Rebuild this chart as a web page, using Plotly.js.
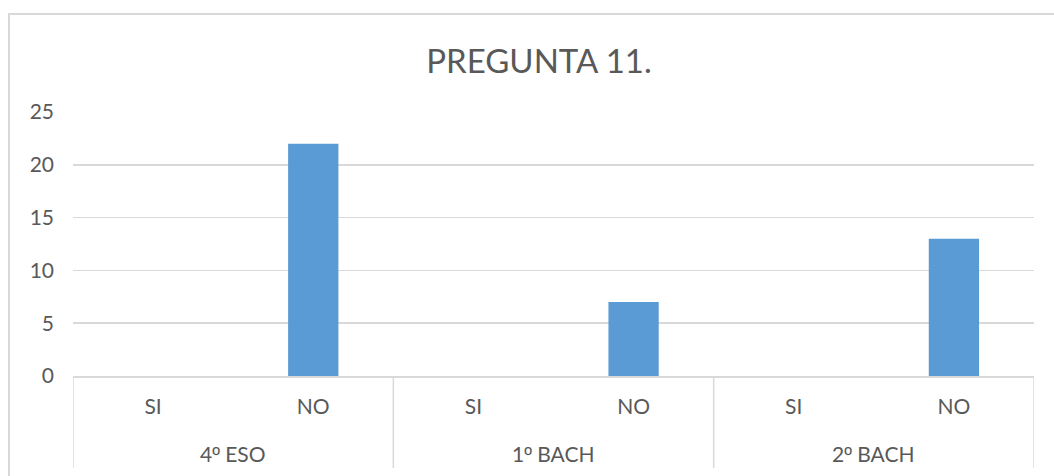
<!DOCTYPE html>
<html>
<head>
<meta charset="utf-8">
<script src="https://cdn.plot.ly/plotly-3.0.1.min.js"></script>
<style>
  html, body { margin: 0; padding: 0; background: #fff; overflow: hidden; }
  #frame { position: absolute; left: 8px; top: 13px; width: 1100px; height: 520px; border: 2px solid #d9d9d9; box-sizing: border-box; }
  #chart { position: absolute; left: 0; top: 0; width: 1054px; height: 476px; }
</style>
</head>
<body>
<div id="frame"></div>
<div id="chart"></div>
<script>
const groups = ['4º ESO', '1º BACH', '2º BACH'];
const subs = ['SI', 'NO'];
const valuesSI = [0, 0, 0];
const valuesNO = [22, 7, 13];
const yTicks = [0, 5, 10, 15, 20, 25];

const xs = [], ys = [], tickText = [];
groups.forEach((g, gi) => {
  [valuesSI[gi], valuesNO[gi]].forEach((v, si) => {
    xs.push(gi * subs.length + si);
    ys.push(v);
    tickText.push(subs[si]);
  });
});

const textColor = '#595959';
const gridColor = '#d9d9d9';
const fontFam = 'Lato, "Open Sans", sans-serif';

// render the ordinal indicator with a font that draws it underlined
const fmtGroup = g => g.replace('º', '<span style="font-family:\'Liberation Sans\'">º</span>');

const annotations = groups.map((g, gi) => ({
  x: gi * subs.length + (subs.length - 1) / 2,
  xref: 'x', y: 0, yref: 'paper', yshift: -77,
  text: fmtGroup(g), showarrow: false, yanchor: 'middle',
  font: { family: fontFam, size: 21, color: textColor }
}));

const plotH = 476 - 112 - 100;
const shapes = [];
for (let gi = 0; gi <= groups.length; gi++) {
  const xv = gi * subs.length - 0.5;
  shapes.push({ type: 'line', xref: 'x', yref: 'paper', x0: xv, x1: xv, y0: 0, y1: -92 / plotH,
    line: { color: gridColor, width: 1.5 } });
}

const trace = {
  type: 'bar', x: xs, y: ys, width: 0.314,
  marker: { color: '#5b9bd5' }, hoverinfo: 'y'
};

const layout = {
  width: 1054, height: 476,
  margin: { l: 73, r: 20, t: 112, b: 100 },
  paper_bgcolor: 'rgba(0,0,0,0)', plot_bgcolor: 'rgba(0,0,0,0)',
  showlegend: false,
  title: { text: 'PREGUNTA 11.', xref: 'container', yref: 'container', x: 539 / 1054, y: 1 - 61 / 476,
    xanchor: 'center', yanchor: 'middle', font: { family: fontFam, size: 33, color: textColor } },
  xaxis: {
    type: 'linear', range: [-0.5, xs.length - 0.5], tickvals: xs, ticktext: tickText,
    showgrid: false, zeroline: false, showline: true, linecolor: gridColor, linewidth: 1.5,
    ticks: '', ticklabelstandoff: 11,
    tickfont: { family: fontFam, size: 21, color: textColor }, fixedrange: true
  },
  yaxis: {
    range: [0, 25], tickvals: yTicks, showgrid: true, gridcolor: gridColor, gridwidth: 1.5,
    zeroline: false, showline: false, ticks: '', ticklabelstandoff: 18,
    tickfont: { family: fontFam, size: 21, color: textColor }, fixedrange: true
  },
  annotations: annotations,
  shapes: shapes
};

Plotly.newPlot('chart', [trace], layout, { displayModeBar: false, staticPlot: true });
</script>
</body>
</html>
